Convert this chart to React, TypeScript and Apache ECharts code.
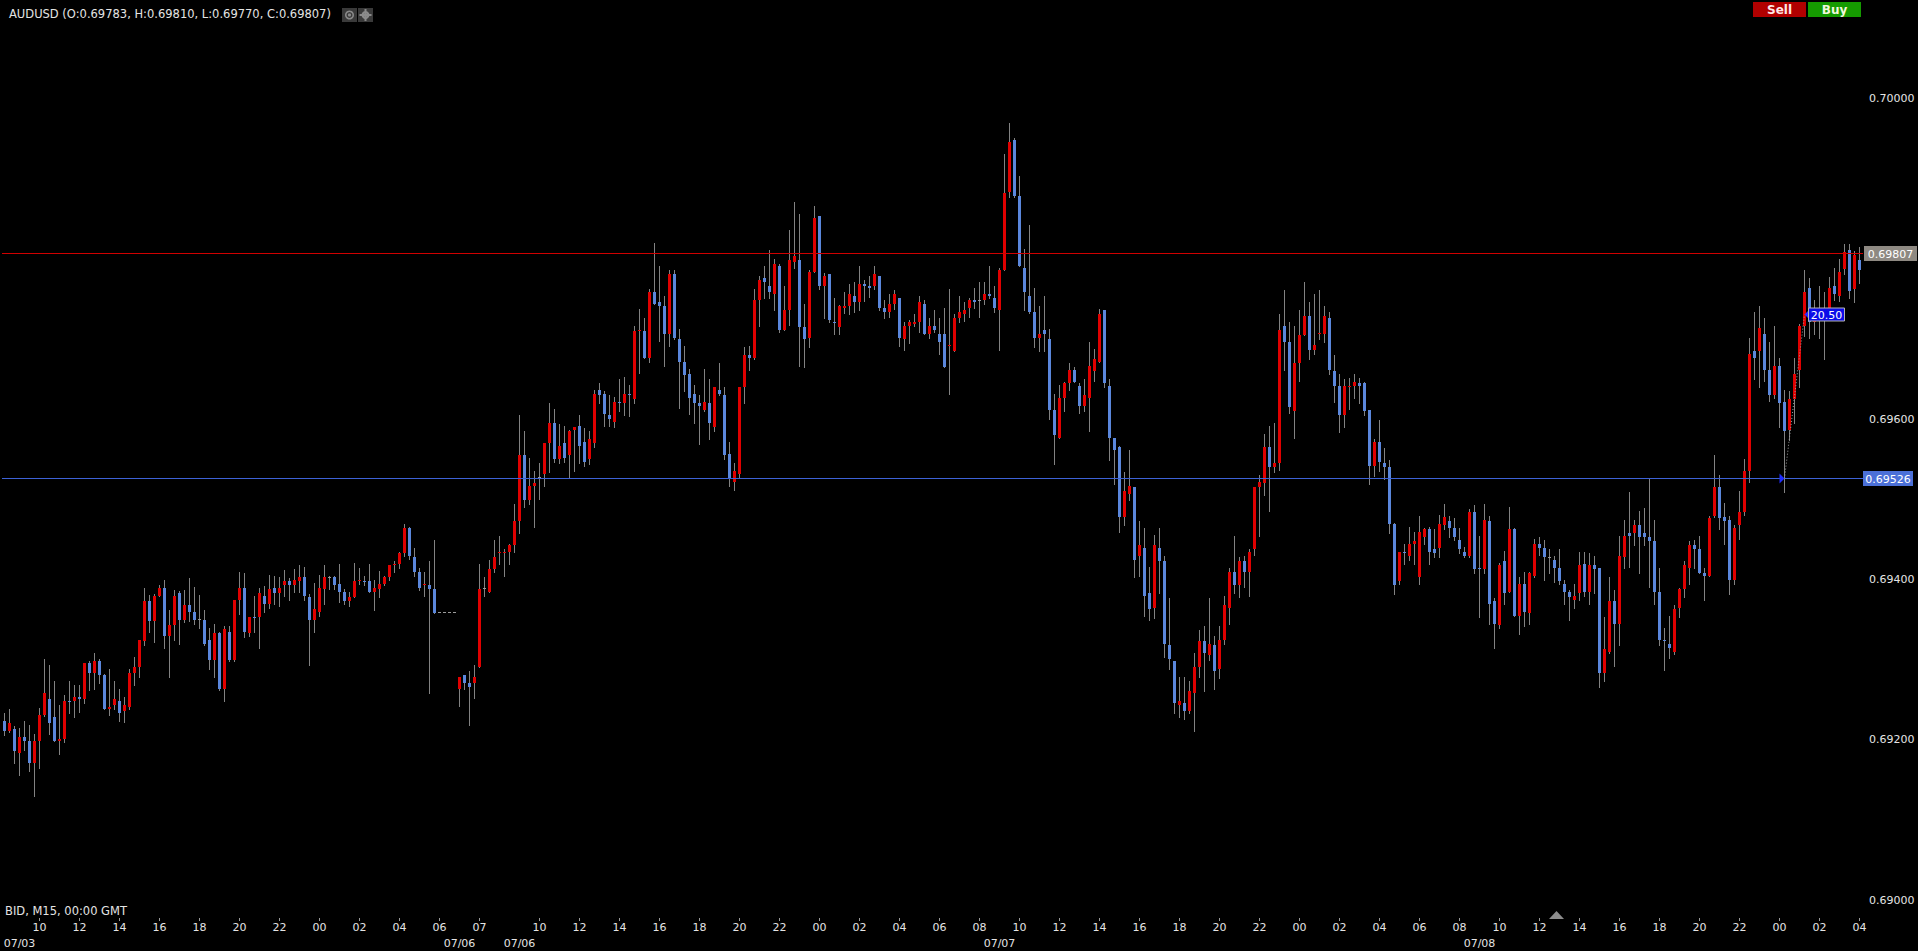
import { useEffect, useRef } from 'react';
import * as echarts from 'echarts';

// ---------- DATA (AUDUSD, M15) ----------
const headerText = 'AUDUSD (O:0.69783, H:0.69810, L:0.69770, C:0.69807)';
const footerText = 'BID, M15, 00:00 GMT';

const opens = [
  0.69223,0.69211,0.69213,0.69183,0.69203,0.69198,0.69171,0.69198,0.69231,0.69251,
  0.69228,0.69198,0.69201,0.69248,0.69248,0.69253,0.69251,0.69296,0.69283,0.69298,
  0.69281,0.69238,0.69243,0.69248,0.69236,0.69241,0.69283,0.69291,0.69323,0.69373,
  0.69348,0.69380,0.69390,0.69330,0.69343,0.69383,0.69350,0.69368,0.69360,0.69350,
  0.69350,0.69325,0.69300,0.69333,0.69263,0.69335,0.69300,0.69375,0.69390,0.69333,
  0.69353,0.69353,0.69380,0.69370,0.69390,0.69383,0.69393,0.69398,0.69393,0.69398,
  0.69403,0.69378,0.69350,0.69360,0.69388,0.69403,0.69403,0.69395,0.69385,0.69373,
  0.69378,0.69398,0.69398,0.69398,0.69385,0.69388,0.69395,0.69403,0.69418,0.69420,
  0.69433,0.69465,0.69428,0.69410,0.69393,0.69393,0.69388,0.69359,0.69359,0.69359,
  0.69359,0.69263,0.69281,0.69271,0.69271,0.69291,0.69389,0.69385,0.69413,0.69433,
  0.69433,0.69435,0.69443,0.69473,0.69555,0.69500,0.69517,0.69528,0.69532,0.69570,
  0.69595,0.69550,0.69570,0.69555,0.69587,0.69592,0.69572,0.69550,0.69570,0.69637,
  0.69632,0.69605,0.69597,0.69622,0.69620,0.69632,0.69625,0.69710,0.69710,0.69677,
  0.69759,0.69747,0.69742,0.69707,0.69782,0.69700,0.69672,0.69657,0.69632,0.69620,
  0.69612,0.69620,0.69590,0.69637,0.69630,0.69557,0.69522,0.69532,0.69640,0.69680,
  0.69677,0.69749,0.69777,0.69767,0.69757,0.69792,0.69712,0.69737,0.69797,0.69799,
  0.69715,0.69702,0.69784,0.69854,0.69767,0.69782,0.69722,0.69715,0.69739,0.69742,
  0.69754,0.69747,0.69769,0.69767,0.69767,0.69779,0.69739,0.69734,0.69744,0.69752,
  0.69700,0.69717,0.69719,0.69722,0.69744,0.69707,0.69717,0.69707,0.69707,0.69692,
  0.69685,0.69727,0.69732,0.69739,0.69749,0.69748,0.69749,0.69757,0.69752,0.69737,
  0.69787,0.69884,0.69949,0.69879,0.69789,0.69754,0.69734,0.69702,0.69712,0.69700,
  0.69612,0.69577,0.69627,0.69645,0.69662,0.69642,0.69617,0.69627,0.69660,0.69672,
  0.69737,0.69642,0.69577,0.69565,0.69478,0.69507,0.69515,0.69430,0.69440,0.69383,
  0.69365,0.69440,0.69423,0.69318,0.69298,0.69243,0.69246,0.69236,0.69258,0.69291,
  0.69323,0.69306,0.69318,0.69288,0.69325,0.69365,0.69410,0.69393,0.69423,0.69410,
  0.69438,0.69515,0.69520,0.69565,0.69540,0.69545,0.69717,0.69697,0.69610,0.69670,
  0.69705,0.69729,0.69687,0.69707,0.69707,0.69727,0.69660,0.69642,0.69605,0.69640,
  0.69642,0.69645,0.69645,0.69612,0.69542,0.69572,0.69545,0.69540,0.69470,0.69398,
  0.69435,0.69430,0.69445,0.69403,0.69453,0.69463,0.69438,0.69440,0.69468,0.69473,
  0.69465,0.69450,0.69435,0.69430,0.69485,0.69415,0.69413,0.69473,0.69373,0.69343,
  0.69423,0.69385,0.69463,0.69355,0.69395,0.69358,0.69405,0.69445,0.69440,0.69428,
  0.69425,0.69415,0.69395,0.69385,0.69375,0.69383,0.69420,0.69385,0.69418,0.69415,
  0.69283,0.69310,0.69373,0.69345,0.69428,0.69458,0.69458,0.69468,0.69458,0.69453,
  0.69448,0.69385,0.69325,0.69320,0.69310,0.69365,0.69388,0.69415,0.69443,0.69438,
  0.69408,0.69405,0.69480,0.69515,0.69478,0.69475,0.69400,0.69468,0.69485,0.69535,
  0.69685,0.69685,0.69707,0.69662,0.69630,0.69667,0.69622,0.69587,0.69625,0.69662,
  0.69717,0.69764,0.69722,0.69737,0.69732,0.69734,0.69767,0.69754,0.69788,0.69812,
  0.69763,0.69799,
];

const highs = [
  0.69233,0.69239,0.69217,0.69215,0.69224,0.69218,0.69207,0.69240,0.69301,0.69293,
  0.69274,0.69243,0.69256,0.69274,0.69269,0.69268,0.69296,0.69299,0.69308,0.69301,
  0.69282,0.69288,0.69274,0.69264,0.69254,0.69289,0.69303,0.69325,0.69390,0.69381,
  0.69382,0.69393,0.69400,0.69362,0.69387,0.69386,0.69387,0.69402,0.69391,0.69381,
  0.69362,0.69339,0.69345,0.69335,0.69342,0.69342,0.69375,0.69410,0.69408,0.69353,
  0.69379,0.69389,0.69392,0.69406,0.69405,0.69403,0.69412,0.69402,0.69413,0.69418,
  0.69416,0.69382,0.69396,0.69406,0.69418,0.69405,0.69405,0.69420,0.69388,0.69384,
  0.69421,0.69414,0.69405,0.69419,0.69400,0.69411,0.69405,0.69418,0.69423,0.69434,
  0.69470,0.69466,0.69440,0.69415,0.69410,0.69423,0.69450,0.69359,0.69359,0.69359,
  0.69359,0.69278,0.69281,0.69286,0.69294,0.69419,0.69403,0.69424,0.69450,0.69454,
  0.69438,0.69445,0.69494,0.69606,0.69585,0.69552,0.69535,0.69545,0.69570,0.69621,
  0.69613,0.69594,0.69592,0.69587,0.69590,0.69605,0.69589,0.69586,0.69637,0.69645,
  0.69635,0.69630,0.69628,0.69651,0.69653,0.69643,0.69717,0.69738,0.69726,0.69763,
  0.69820,0.69791,0.69754,0.69786,0.69787,0.69713,0.69692,0.69663,0.69643,0.69630,
  0.69663,0.69651,0.69640,0.69671,0.69640,0.69572,0.69545,0.69641,0.69690,0.69691,
  0.69763,0.69779,0.69791,0.69811,0.69800,0.69794,0.69767,0.69837,0.69872,0.69857,
  0.69744,0.69786,0.69867,0.69854,0.69783,0.69782,0.69751,0.69743,0.69759,0.69769,
  0.69771,0.69792,0.69774,0.69779,0.69792,0.69779,0.69749,0.69756,0.69762,0.69752,
  0.69722,0.69724,0.69731,0.69754,0.69749,0.69726,0.69737,0.69726,0.69739,0.69763,
  0.69732,0.69754,0.69746,0.69752,0.69764,0.69771,0.69771,0.69792,0.69767,0.69789,
  0.69931,0.69970,0.69951,0.69904,0.69813,0.69843,0.69764,0.69741,0.69754,0.69713,
  0.69632,0.69643,0.69647,0.69671,0.69665,0.69645,0.69651,0.69696,0.69688,0.69738,
  0.69737,0.69651,0.69577,0.69567,0.69534,0.69562,0.69515,0.69473,0.69465,0.69416,
  0.69456,0.69465,0.69429,0.69377,0.69298,0.69278,0.69278,0.69273,0.69308,0.69337,
  0.69342,0.69377,0.69330,0.69342,0.69379,0.69414,0.69454,0.69428,0.69430,0.69438,
  0.69515,0.69531,0.69582,0.69592,0.69595,0.69731,0.69762,0.69722,0.69717,0.69736,
  0.69771,0.69746,0.69756,0.69761,0.69742,0.69734,0.69681,0.69657,0.69650,0.69652,
  0.69657,0.69652,0.69647,0.69612,0.69575,0.69599,0.69564,0.69549,0.69471,0.69435,
  0.69445,0.69466,0.69460,0.69479,0.69465,0.69466,0.69463,0.69481,0.69495,0.69479,
  0.69477,0.69464,0.69441,0.69488,0.69493,0.69455,0.69495,0.69479,0.69377,0.69421,
  0.69436,0.69491,0.69465,0.69403,0.69410,0.69410,0.69451,0.69453,0.69450,0.69438,
  0.69430,0.69438,0.69400,0.69387,0.69394,0.69434,0.69435,0.69433,0.69429,0.69415,
  0.69353,0.69403,0.69387,0.69455,0.69475,0.69509,0.69475,0.69486,0.69489,0.69525,
  0.69474,0.69414,0.69339,0.69355,0.69368,0.69390,0.69423,0.69448,0.69449,0.69454,
  0.69415,0.69480,0.69555,0.69530,0.69496,0.69479,0.69468,0.69510,0.69551,0.69702,
  0.69734,0.69741,0.69726,0.69697,0.69716,0.69677,0.69637,0.69635,0.69677,0.69719,
  0.69786,0.69776,0.69749,0.69767,0.69759,0.69778,0.69789,0.69800,0.69819,0.69819,
  0.69810,0.69815,
];

const lows = [
  0.69206,0.69210,0.69171,0.69156,0.69187,0.69161,0.69130,0.69165,0.69230,0.69207,
  0.69198,0.69182,0.69197,0.69233,0.69229,0.69235,0.69246,0.69262,0.69264,0.69271,
  0.69238,0.69231,0.69238,0.69224,0.69222,0.69238,0.69268,0.69279,0.69318,0.69335,
  0.69322,0.69380,0.69314,0.69278,0.69325,0.69320,0.69347,0.69348,0.69344,0.69339,
  0.69318,0.69288,0.69278,0.69262,0.69249,0.69298,0.69298,0.69357,0.69328,0.69330,
  0.69335,0.69314,0.69360,0.69364,0.69369,0.69367,0.69379,0.69375,0.69385,0.69384,
  0.69374,0.69293,0.69335,0.69354,0.69369,0.69388,0.69388,0.69372,0.69370,0.69367,
  0.69378,0.69395,0.69393,0.69385,0.69362,0.69378,0.69393,0.69400,0.69409,0.69414,
  0.69429,0.69426,0.69404,0.69387,0.69380,0.69259,0.69358,0.69359,0.69359,0.69359,
  0.69359,0.69242,0.69263,0.69218,0.69252,0.69291,0.69379,0.69385,0.69410,0.69419,
  0.69405,0.69420,0.69434,0.69458,0.69491,0.69495,0.69466,0.69501,0.69517,0.69534,
  0.69547,0.69546,0.69547,0.69527,0.69535,0.69546,0.69542,0.69544,0.69565,0.69620,
  0.69592,0.69592,0.69590,0.69611,0.69605,0.69604,0.69620,0.69658,0.69677,0.69672,
  0.69744,0.69698,0.69667,0.69692,0.69700,0.69614,0.69635,0.69607,0.69596,0.69569,
  0.69610,0.69576,0.69585,0.69630,0.69550,0.69517,0.69512,0.69527,0.69621,0.69662,
  0.69675,0.69716,0.69751,0.69751,0.69737,0.69709,0.69712,0.69718,0.69789,0.69667,
  0.69666,0.69690,0.69784,0.69763,0.69726,0.69722,0.69707,0.69707,0.69733,0.69731,
  0.69734,0.69737,0.69748,0.69753,0.69763,0.69737,0.69726,0.69728,0.69738,0.69692,
  0.69687,0.69695,0.69716,0.69709,0.69707,0.69702,0.69709,0.69682,0.69665,0.69632,
  0.69685,0.69722,0.69723,0.69728,0.69739,0.69728,0.69744,0.69751,0.69734,0.69687,
  0.69787,0.69877,0.69877,0.69791,0.69736,0.69733,0.69690,0.69685,0.69685,0.69600,
  0.69544,0.69577,0.69611,0.69637,0.69647,0.69608,0.69611,0.69585,0.69648,0.69672,
  0.69641,0.69549,0.69519,0.69459,0.69468,0.69500,0.69403,0.69404,0.69354,0.69350,
  0.69352,0.69383,0.69303,0.69288,0.69233,0.69228,0.69226,0.69233,0.69211,0.69278,
  0.69261,0.69300,0.69263,0.69277,0.69320,0.69344,0.69383,0.69378,0.69391,0.69380,
  0.69431,0.69454,0.69505,0.69486,0.69534,0.69537,0.69662,0.69608,0.69577,0.69648,
  0.69705,0.69675,0.69682,0.69700,0.69696,0.69657,0.69622,0.69584,0.69590,0.69613,
  0.69627,0.69621,0.69606,0.69519,0.69529,0.69536,0.69525,0.69458,0.69382,0.69394,
  0.69419,0.69425,0.69419,0.69394,0.69445,0.69419,0.69428,0.69428,0.69463,0.69453,
  0.69450,0.69433,0.69428,0.69428,0.69408,0.69353,0.69408,0.69345,0.69314,0.69340,
  0.69369,0.69385,0.69354,0.69332,0.69342,0.69345,0.69403,0.69431,0.69400,0.69408,
  0.69397,0.69395,0.69370,0.69349,0.69365,0.69375,0.69380,0.69370,0.69383,0.69266,
  0.69273,0.69308,0.69292,0.69318,0.69415,0.69416,0.69443,0.69408,0.69443,0.69391,
  0.69370,0.69318,0.69287,0.69302,0.69307,0.69353,0.69378,0.69394,0.69415,0.69408,
  0.69374,0.69405,0.69478,0.69463,0.69445,0.69382,0.69394,0.69451,0.69481,0.69522,
  0.69650,0.69641,0.69648,0.69623,0.69627,0.69591,0.69509,0.69574,0.69596,0.69640,
  0.69704,0.69701,0.69707,0.69702,0.69675,0.69734,0.69749,0.69748,0.69781,0.69751,
  0.69747,0.69770,
];

const closes = [
  0.69211,0.69221,0.69186,0.69203,0.69198,0.69171,0.69198,0.69231,0.69258,0.69221,
  0.69198,0.69201,0.69248,0.69247,0.69253,0.69251,0.69296,0.69283,0.69298,0.69281,
  0.69238,0.69241,0.69251,0.69233,0.69243,0.69283,0.69291,0.69325,0.69373,0.69348,
  0.69380,0.69390,0.69330,0.69343,0.69380,0.69350,0.69368,0.69360,0.69350,0.69350,
  0.69320,0.69300,0.69333,0.69263,0.69338,0.69300,0.69375,0.69390,0.69335,0.69353,
  0.69352,0.69383,0.69370,0.69388,0.69383,0.69390,0.69398,0.69393,0.69400,0.69403,
  0.69380,0.69350,0.69363,0.69390,0.69403,0.69403,0.69393,0.69385,0.69373,0.69378,
  0.69398,0.69399,0.69397,0.69385,0.69390,0.69395,0.69403,0.69418,0.69420,0.69433,
  0.69465,0.69430,0.69410,0.69390,0.69395,0.69388,0.69358,0.69359,0.69359,0.69359,
  0.69359,0.69278,0.69271,0.69266,0.69278,0.69388,0.69389,0.69413,0.69428,0.69434,
  0.69435,0.69443,0.69473,0.69555,0.69500,0.69517,0.69520,0.69528,0.69570,0.69595,
  0.69550,0.69567,0.69552,0.69585,0.69590,0.69567,0.69547,0.69575,0.69632,0.69630,
  0.69607,0.69600,0.69622,0.69621,0.69632,0.69630,0.69710,0.69711,0.69677,0.69759,
  0.69744,0.69742,0.69707,0.69782,0.69702,0.69672,0.69655,0.69627,0.69620,0.69617,
  0.69622,0.69595,0.69640,0.69632,0.69555,0.69527,0.69535,0.69640,0.69680,0.69677,
  0.69749,0.69774,0.69772,0.69759,0.69794,0.69712,0.69737,0.69799,0.69804,0.69715,
  0.69700,0.69784,0.69852,0.69767,0.69779,0.69724,0.69720,0.69742,0.69742,0.69757,
  0.69747,0.69769,0.69767,0.69764,0.69782,0.69739,0.69734,0.69744,0.69757,0.69702,
  0.69717,0.69722,0.69721,0.69747,0.69707,0.69717,0.69712,0.69697,0.69665,0.69693,
  0.69727,0.69734,0.69737,0.69749,0.69747,0.69748,0.69757,0.69754,0.69739,0.69787,
  0.69882,0.69946,0.69879,0.69792,0.69759,0.69734,0.69702,0.69707,0.69707,0.69612,
  0.69580,0.69627,0.69645,0.69662,0.69647,0.69617,0.69630,0.69667,0.69675,0.69732,
  0.69645,0.69577,0.69562,0.69478,0.69510,0.69517,0.69425,0.69443,0.69380,0.69363,
  0.69443,0.69423,0.69320,0.69301,0.69246,0.69248,0.69236,0.69261,0.69291,0.69323,
  0.69308,0.69320,0.69286,0.69325,0.69368,0.69410,0.69393,0.69423,0.69410,0.69435,
  0.69515,0.69522,0.69565,0.69540,0.69545,0.69712,0.69697,0.69615,0.69670,0.69705,
  0.69729,0.69687,0.69693,0.69708,0.69729,0.69662,0.69642,0.69605,0.69642,0.69642,
  0.69647,0.69642,0.69610,0.69542,0.69572,0.69547,0.69540,0.69470,0.69393,0.69435,
  0.69433,0.69445,0.69448,0.69460,0.69463,0.69435,0.69433,0.69470,0.69478,0.69465,
  0.69453,0.69438,0.69430,0.69485,0.69413,0.69413,0.69475,0.69370,0.69345,0.69418,
  0.69383,0.69463,0.69355,0.69395,0.69360,0.69408,0.69445,0.69440,0.69428,0.69428,
  0.69415,0.69398,0.69385,0.69378,0.69380,0.69418,0.69385,0.69418,0.69413,0.69283,
  0.69313,0.69373,0.69345,0.69430,0.69455,0.69455,0.69468,0.69453,0.69453,0.69448,
  0.69385,0.69325,0.69323,0.69315,0.69363,0.69388,0.69418,0.69443,0.69438,0.69408,
  0.69405,0.69477,0.69515,0.69477,0.69473,0.69400,0.69465,0.69485,0.69535,0.69682,
  0.69677,0.69714,0.69662,0.69630,0.69667,0.69620,0.69585,0.69625,0.69657,0.69717,
  0.69759,0.69722,0.69737,0.69727,0.69732,0.69764,0.69757,0.69784,0.69809,0.69760,
  0.69805,0.69787,
];

// x-axis hour ticks (slot index -> label) and date labels
const hourTickSlots = [7, 15, 23, 31, 39, 47, 55, 63, 71, 79, 87, 95,
  107, 115, 123, 131, 139, 147, 155, 163, 171, 179, 187, 195,
  203, 211, 219, 227, 235, 243, 251, 259, 267, 275, 283, 291,
  299, 307, 315, 323, 331, 339, 347, 355, 363, 371];
const hourTickLabels = ['10', '12', '14', '16', '18', '20', '22', '00', '02', '04', '06', '07',
  '10', '12', '14', '16', '18', '20', '22', '00', '02', '04', '06', '08',
  '10', '12', '14', '16', '18', '20', '22', '00', '02', '04', '06', '08',
  '10', '12', '14', '16', '18', '20', '22', '00', '02', '04'];
const dateTickSlots = [3, 91, 103, 199, 295];
const dateTickLabels = ['07/03', '07/06', '07/06', '07/07', '07/08'];

// horizontal price lines (bid line, support line)
const priceLineValues = [0.69807, 0.69526];

// measuring ruler: from slot/price to slot/price
const rulerStartSlot = [356];
const rulerStartPrice = [0.69526];
const rulerEndSlot = [360];
const rulerEndPrice = [0.69731];

// ---------- STYLE ----------
const UP = '#e00000';
const DOWN = '#5b87dc';
const WICK = '#828282';
const DOJI = '#9a9a9a';
const FONT = '"DejaVu Sans", sans-serif';
const TXT = '#e4e4e4';

const priceLineStyles = [
  { line: '#d00000', fill: '#8e8982', dx: 2, w: 53 },
  { line: '#3d62d6', fill: '#4b70d8', dx: 1, w: 50 },
];

const categories = opens.map((_, i) => String(i));
const candleData = opens.map((o, i) => [i, o, closes[i], lows[i], highs[i]]);
const hourMap = new Map(hourTickSlots.map((s, i) => [s, hourTickLabels[i]]));
const dateMap = new Map(dateTickSlots.map((s, i) => [s, dateTickLabels[i]]));

function renderCandle(params: any, api: any) {
  const i = api.value(0);
  const o = api.value(1);
  const c = api.value(2);
  const l = api.value(3);
  const h = api.value(4);
  const pO = api.coord([i, o]);
  const yC = api.coord([i, c])[1];
  const yL = api.coord([i, l])[1];
  const yH = api.coord([i, h])[1];
  const cx = Math.floor(pO[0]) + 0.5;
  const children: any[] = [];
  children.push({
    type: 'line',
    shape: { x1: cx, y1: Math.round(yH), x2: cx, y2: Math.round(yL) + 1 },
    style: { stroke: WICK, lineWidth: 1 },
  });
  if (o === c) {
    const y = Math.floor(pO[1]) + 0.5;
    children.push({
      type: 'line',
      shape: { x1: cx - 1.5, y1: y, x2: cx + 1.5, y2: y },
      style: { stroke: DOJI, lineWidth: 1 },
    });
  } else {
    const top = Math.round(Math.min(pO[1], yC));
    const bot = Math.round(Math.max(pO[1], yC));
    children.push({
      type: 'rect',
      shape: { x: cx - 1.5, y: top, width: 3, height: Math.max(1, bot - top) },
      style: { fill: c > o ? UP : DOWN },
    });
  }
  return { type: 'group', children };
}

function renderPriceLine(params: any, api: any) {
  const cs = params.coordSys;
  const v = api.value(1);
  const y = Math.floor(api.coord([0, v])[1]) + 0.5;
  const right = cs.x + cs.width;
  const st = priceLineStyles[params.dataIndex];
  return {
    type: 'group',
    children: [
      { type: 'line', shape: { x1: cs.x, y1: y, x2: right + 1, y2: y }, style: { stroke: st.line, lineWidth: 1 } },
      { type: 'rect', shape: { x: right + st.dx, y: Math.round(y - 7.5), width: st.w, height: 15 }, style: { fill: st.fill } },
      {
        type: 'text', x: right + st.dx + st.w / 2, y: y + 0.5,
        style: { text: v.toFixed(5), fill: '#ffffff', font: `11px ${FONT}`, align: 'center', verticalAlign: 'middle' },
      },
    ],
  };
}

function renderRuler(params: any, api: any) {
  const s = api.coord([api.value(0), api.value(1)]);
  const e = api.coord([api.value(2), api.value(3)]);
  const pips = ((api.value(3) - api.value(1)) * 10000).toFixed(2);
  const sx = Math.floor(s[0]) + 0.5;
  const sy = Math.floor(s[1]) + 0.5;
  const ex = Math.floor(e[0]) + 0.5;
  const ey = Math.floor(e[1]) + 0.5;
  return {
    type: 'group',
    children: [
      { type: 'line', shape: { x1: sx, y1: sy, x2: ex, y2: ey }, style: { stroke: '#a0a0a0', lineWidth: 1, lineDash: [1, 2] } },
      { type: 'polygon', shape: { points: [[sx - 5, sy - 5], [sx, sy], [sx - 5, sy + 5]] }, style: { fill: '#1f2cff' } },
      { type: 'polygon', shape: { points: [[ex, ey], [ex + 4, ey - 4], [ex + 4, ey + 4]] }, style: { fill: '#2a2aff' } },
      { type: 'rect', shape: { x: ex + 4, y: ey - 6.5, width: 36, height: 13 }, style: { fill: '#0c0ce8', stroke: '#b4b4b4', lineWidth: 1 } },
      {
        type: 'text', x: ex + 22, y: ey + 0.5,
        style: { text: pips, fill: '#ffffff', font: `11px ${FONT}`, align: 'center', verticalAlign: 'middle' },
      },
    ],
  };
}

function buildOption(): any {
  return {
    animation: false,
    backgroundColor: '#000000',
    grid: { left: 2, right: 56, top: 50.9, bottom: 1.9, containLabel: false },
    xAxis: [
      {
        type: 'category',
        data: categories,
        boundaryGap: true,
        position: 'bottom',
        offset: -30.1,
        axisLine: { show: false },
        axisTick: {
          show: true,
          alignWithLabel: true,
          length: 3,
          interval: (idx: number) => hourMap.has(idx),
          lineStyle: { color: '#9a9a9a' },
        },
        axisLabel: {
          show: true,
          hideOverlap: false,
          interval: (idx: number) => hourMap.has(idx),
          formatter: (_v: string, idx: number) => hourMap.get(idx) ?? '',
          color: TXT,
          fontSize: 11,
          fontFamily: FONT,
          lineHeight: 16,
          margin: 1,
        },
        splitLine: { show: false },
      },
      {
        type: 'category',
        data: categories,
        boundaryGap: true,
        position: 'bottom',
        offset: -30.1,
        axisLine: { show: false },
        axisTick: { show: false },
        axisLabel: {
          show: true,
          showMinLabel: true,
          hideOverlap: false,
          interval: (idx: number) => dateMap.has(idx),
          formatter: (_v: string, idx: number) => dateMap.get(idx) ?? '',
          color: TXT,
          fontSize: 11,
          fontFamily: FONT,
          lineHeight: 16,
          margin: 17,
        },
        splitLine: { show: false },
      },
    ],
    yAxis: {
      type: 'value',
      position: 'right',
      min: 0.6894,
      max: 0.7006,
      scale: true,
      splitLine: { show: false },
      axisLine: { show: false },
      axisTick: { show: false },
      axisLabel: {
        showMinLabel: false,
        showMaxLabel: false,
        margin: 7,
        color: TXT,
        fontSize: 11,
        fontFamily: FONT,
        formatter: (v: number) => {
          const r = v / 0.002;
          if (Math.abs(r - Math.round(r)) > 1e-6) return '';
          // the level hidden behind the bid-price tag
          if (Math.abs(v - priceLineValues[0]) < 0.0002) return '';
          return v.toFixed(5);
        },
      },
    },
    series: [
      {
        type: 'custom',
        name: 'AUDUSD',
        renderItem: renderCandle,
        data: candleData,
        encode: { x: 0, y: [1, 2, 3, 4] },
        clip: true,
        z: 2,
      },
      {
        type: 'custom',
        name: 'lines',
        renderItem: renderPriceLine,
        data: priceLineValues.map((p) => [0, p]),
        encode: { x: 0, y: 1 },
        z: 3,
      },
      {
        type: 'custom',
        name: 'ruler',
        renderItem: renderRuler,
        data: rulerStartSlot.map((s, i) => [s, rulerStartPrice[i], rulerEndSlot[i], rulerEndPrice[i]]),
        encode: { x: [0, 2], y: [1, 3] },
        z: 4,
      },
    ],
    graphic: [
      {
        type: 'text', x: 9, y: 14, silent: true,
        style: { text: headerText, fill: TXT, font: `11.5px ${FONT}`, verticalAlign: 'middle' },
      },
      { type: 'rect', shape: { x: 342, y: 8, width: 15, height: 14 }, style: { fill: '#3a3a3a' } },
      { type: 'ring', shape: { cx: 349.5, cy: 15, r: 4.5, r0: 3 }, style: { fill: '#8a8a8a' } },
      { type: 'circle', shape: { cx: 349.5, cy: 15, r: 1.6 }, style: { fill: '#8a8a8a' } },
      { type: 'rect', shape: { x: 358, y: 8, width: 15, height: 14 }, style: { fill: '#3a3a3a' } },
      { type: 'ring', shape: { cx: 365.5, cy: 15, r: 4, r0: 1.6 }, style: { fill: '#8a8a8a' } },
      { type: 'rect', shape: { x: 364.5, y: 9, width: 2, height: 12 }, style: { fill: '#8a8a8a' } },
      { type: 'rect', shape: { x: 359.5, y: 14, width: 12, height: 2 }, style: { fill: '#8a8a8a' } },
      { type: 'rect', shape: { x: 1753, y: 2, width: 53, height: 15 }, style: { fill: '#b10000' } },
      {
        type: 'text', x: 1779.5, y: 10,
        style: { text: 'Sell', fill: '#ffe6e6', font: `bold 12px ${FONT}`, align: 'center', verticalAlign: 'middle' },
      },
      { type: 'rect', shape: { x: 1808, y: 2, width: 53, height: 15 }, style: { fill: '#159a00' } },
      {
        type: 'text', x: 1834.5, y: 10,
        style: { text: 'Buy', fill: '#f2f8dc', font: `bold 12px ${FONT}`, align: 'center', verticalAlign: 'middle' },
      },
      {
        type: 'text', x: 5, y: 911,
        style: { text: footerText, fill: TXT, font: `11.5px ${FONT}`, verticalAlign: 'middle' },
      },
      { type: 'polygon', shape: { points: [[1549, 919], [1564, 919], [1556.5, 911]] }, style: { fill: '#8c8c8c' } },
    ],
  };
}

export default function App() {
  const ref = useRef<HTMLDivElement>(null);
  useEffect(() => {
    const el = ref.current;
    if (!el) return;
    const chart = echarts.init(el, null, { renderer: 'svg' });
    chart.setOption(buildOption());
    return () => chart.dispose();
  }, []);
  return (
    <div
      ref={ref}
      style={{ position: 'fixed', left: 0, top: 0, width: '1918px', height: '951px', background: '#000' }}
    />
  );
}
